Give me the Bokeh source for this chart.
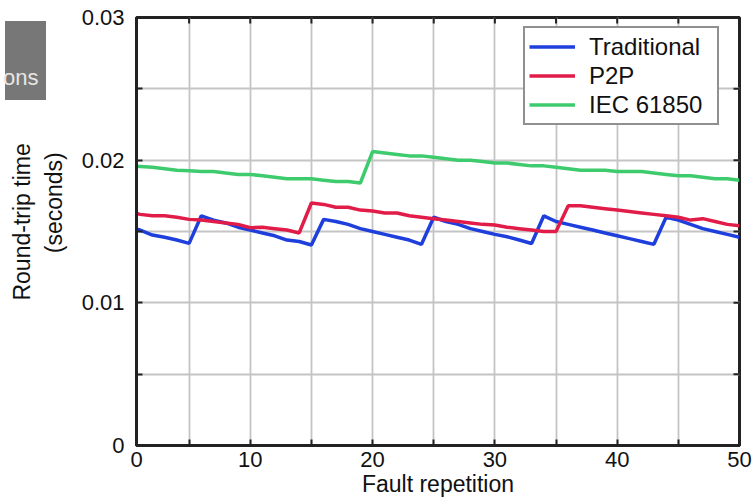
import math
from bokeh.plotting import figure
from bokeh.models import FixedTicker, LinearAxis, Range1d, Grid, Div
from bokeh.layouts import column
from bokeh.embed import file_html
from bokeh.resources import INLINE

# ---- data ----
repetition = list(range(0, 51))

traditional = [0.0153, 0.0151, 0.01475, 0.0146, 0.0144, 0.01417, 0.0161, 0.0158, 0.0156, 0.0153,
               0.0151, 0.0149, 0.0147, 0.0144, 0.0143, 0.01405, 0.01585, 0.0157, 0.0155, 0.0152,
               0.0150, 0.0148, 0.0146, 0.0144, 0.0141, 0.0160, 0.0157, 0.0155, 0.0152, 0.0150,
               0.0148, 0.01463, 0.0144, 0.01416, 0.0161, 0.0157, 0.0155, 0.0153, 0.0151, 0.0149,
               0.0147, 0.0145, 0.0143, 0.0141, 0.0160, 0.0158, 0.0155, 0.0152, 0.0150, 0.0148,
               0.0146]

p2p = [0.0164, 0.0162, 0.0161, 0.0161, 0.0160, 0.01585, 0.0158, 0.0157, 0.0156, 0.0155,
       0.01526, 0.0153, 0.0152, 0.0151, 0.0149, 0.0170, 0.0169, 0.0167, 0.0167, 0.0165,
       0.01643, 0.0163, 0.0163, 0.0161, 0.0160, 0.0159, 0.0158, 0.0157, 0.0156, 0.0155,
       0.01545, 0.0153, 0.0152, 0.0151, 0.0150, 0.0150, 0.0168, 0.0168, 0.0167, 0.0166,
       0.0165, 0.0164, 0.0163, 0.0162, 0.0161, 0.0160, 0.0158, 0.0159, 0.0157, 0.0155,
       0.0154]

iec61850 = [0.0196, 0.01955, 0.0195, 0.0194, 0.0193, 0.01926, 0.0192, 0.0192, 0.0191, 0.0190,
            0.0190, 0.0189, 0.0188, 0.0187, 0.0187, 0.0187, 0.0186, 0.0185, 0.0185, 0.0184,
            0.0206, 0.0205, 0.0204, 0.0203, 0.0203, 0.0202, 0.0201, 0.0200, 0.0200, 0.0199,
            0.0198, 0.0198, 0.0197, 0.0196, 0.0196, 0.0195, 0.0194, 0.0193, 0.0193, 0.0193,
            0.0192, 0.0192, 0.0192, 0.0191, 0.0190, 0.0189, 0.0189, 0.0188, 0.0187, 0.0187,
            0.0186]

series_names = ["Traditional", "P2P", "IEC 61850"]
series_colors = ["#1e3fdc", "#e21c48", "#3ecb6e"]

x_start, x_end = 0.7, 50
x_major = [x_start, 10, 20, 30, 40, 50]
x_minor = [5, 15, 25, 35, 45]
x_labels = {x_start: "0", 10: "10", 20: "20", 30: "30", 40: "40", 50: "50"}

y_start, y_end = 0, 0.03
y_major = [0, 0.01, 0.02, 0.03]
y_minor = [0.005, 0.015, 0.025]
y_labels = {0: "0", 0.01: "0.01", 0.02: "0.02", 0.03: "0.03"}

x_title = "Fault repetition"
y_title_lines = ["Round-trip time", "(seconds)"]

FONT = "Liberation Sans"
INK = "#222222"
TXT = "#111111"
GRID = "#c4c4c4"
NB = "\u00a0"

p = figure(width=754, height=502, output_backend="svg", toolbar_location=None,
           x_range=Range1d(x_start, x_end), y_range=Range1d(y_start, y_end),
           x_axis_location=None, y_axis_location=None,
           min_border_left=136, min_border_right=15, min_border_top=17, min_border_bottom=57)

p.outline_line_color = INK
p.outline_line_width = 3
p.background_fill_color = "white"
p.border_fill_color = "white"

xt = FixedTicker(ticks=x_major, minor_ticks=x_minor)
yt = FixedTicker(ticks=y_major, minor_ticks=y_minor)


def style_axis(ax):
    ax.axis_line_color = INK
    ax.axis_line_width = 3
    ax.major_tick_in = 6
    ax.major_tick_out = 0
    ax.minor_tick_in = 6
    ax.minor_tick_out = 0
    ax.major_tick_line_color = INK
    ax.major_tick_line_width = 2
    ax.minor_tick_line_color = INK
    ax.minor_tick_line_width = 2
    ax.major_label_text_font = FONT
    ax.major_label_text_color = TXT
    ax.major_label_text_font_size = "22px"
    ax.axis_label_text_font = FONT
    ax.axis_label_text_font_style = "normal"
    ax.axis_label_text_color = TXT
    ax.axis_label_text_font_size = "23px"


bottom = LinearAxis(ticker=xt, major_label_overrides=x_labels, axis_label=x_title)
style_axis(bottom)
bottom.major_label_standoff = 6
bottom.axis_label_standoff = 1
p.add_layout(bottom, "below")

# leading no-break spaces shift each (centred) line of the rotated title toward its end,
# as the lines in the reference are aligned at the top
y_title = NB * 3 + y_title_lines[0] + "\n" + NB * 9 + y_title_lines[1]
left = LinearAxis(ticker=yt, major_label_overrides=y_labels, axis_label=y_title)
style_axis(left)
left.major_label_standoff = 12
left.axis_label_standoff = 12
p.add_layout(left, "left")

xg = Grid(dimension=0, ticker=xt, grid_line_color=GRID, grid_line_width=1.8,
          minor_grid_line_color=GRID, minor_grid_line_width=1.8)
yg = Grid(dimension=1, ticker=yt, grid_line_color=GRID, grid_line_width=1.8,
          minor_grid_line_color=GRID, minor_grid_line_width=1.8)
p.add_layout(xg)
p.add_layout(yg)

# inward tick marks on the top and right edges of the box (half of each dash is clipped by the frame)
top_ticks = x_major + x_minor
right_ticks = y_major + y_minor
p.scatter(top_ticks, [y_end] * len(top_ticks), marker="dash", size=12, angle=math.pi / 2,
          line_color=INK, line_width=2)
p.scatter([x_end] * len(right_ticks), right_ticks, marker="dash", size=12,
          line_color=INK, line_width=2)

for ys, name, col in zip([traditional, p2p, iec61850], series_names, series_colors):
    p.line(repetition, ys, line_color=col, line_width=3.5, legend_label=name)

lg = p.legend[0]
lg.location = (387, 320)
lg.label_text_font = FONT
lg.label_text_font_size = "24px"
lg.label_text_color = TXT
lg.label_height = 29
lg.glyph_height = 29
lg.glyph_width = 46
lg.label_standoff = 14
lg.label_width = 124
lg.padding = 4
lg.spacing = 0
lg.margin = 0
lg.border_line_color = INK
lg.border_line_width = 2.5
lg.background_fill_color = "white"
lg.background_fill_alpha = 1

# grey fragment box at the top left of the reference
stub = Div(text="ons", width=41, height=79,
           styles={"position": "absolute", "left": "0px", "top": "16px",
                   "background-color": "#777777", "color": "#e6e6e6",
                   "font-family": FONT, "font-size": "22px", "line-height": "22px",
                   "text-align": "left", "text-indent": "-2px", "box-sizing": "border-box",
                   "padding-top": "46px", "white-space": "nowrap",
                   "z-index": "10"})

page = column(stub, p)
open("out.html", "w").write(file_html(page, INLINE))
